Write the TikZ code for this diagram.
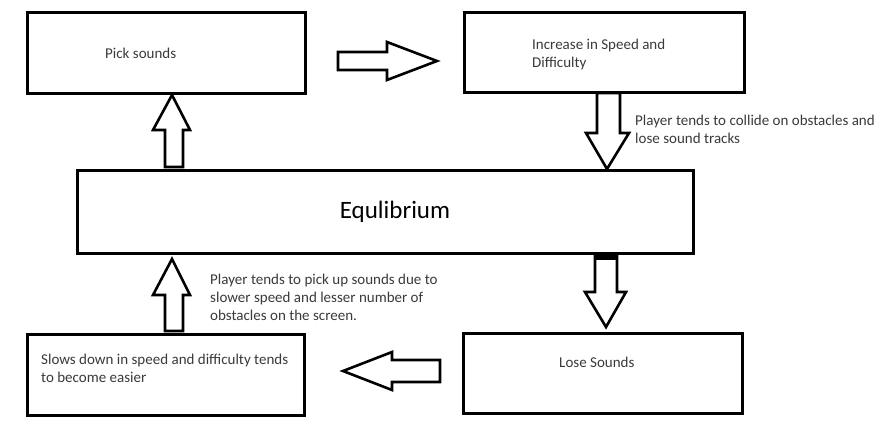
\documentclass[tikz,border=0pt]{standalone}
\usepackage{fontspec}
\setmainfont{Carlito}
\definecolor{txt}{HTML}{3A3A3A}
\tikzset{
  box/.style={draw=black, line width=3pt, inner sep=0pt, outer sep=0pt},
  blk/.style={draw=black, line width=2.6pt, fill=white, line join=miter},
  lbl/.style={text=txt, font=\fontsize{15}{18}\selectfont, inner sep=0pt, anchor=west, align=left},
}
\begin{document}
\begin{tikzpicture}[x=1pt,y=-1pt]
\useasboundingbox[fill=white] (0,0) rectangle (882,428);
% boxes
\node[box, minimum width=278pt, minimum height=80pt] (pick) at (166,53) {};
\node[box, minimum width=280pt, minimum height=79pt] (incr) at (604,52.5) {};
\node[box, minimum width=616pt, minimum height=83pt] (eq) at (385,211.5) {};
\node[box, minimum width=277pt, minimum height=81pt] (slow) at (165.5,374.5) {};
\node[box, minimum width=279pt, minimum height=80pt] (lose) at (602.5,373) {};
% texts
\node[lbl] (pickT) at (105,53) {Pick sounds};
\node[lbl] (incrT) at (532,54.5) {Increase in Speed and\\Difficulty};
\node[text=black, font=\fontsize{25}{30}\selectfont, inner sep=0pt] (eqT) at (395,212) {Equlibrium};
\node[lbl] (slowT) at (41,368) {Slows down in speed and difficulty tends\\to become easier};
\node[lbl] (loseT) at (559,362) {Lose Sounds};
\node[lbl] (collT) at (635,129) {Player tends to collide on obstacles and\\lose sound tracks};
\node[lbl] (pickupT) at (210,297) {Player tends to pick up sounds due to\\slower speed and lesser number of\\obstacles on the screen.};
% block arrows
% pick -> incr (right)
\draw[blk] (338,52) -- (387,52) -- (387,42) -- (437,61) -- (387,80) -- (387,70) -- (338,70) -- cycle;
% incr -> eq (down)
\draw[blk] (597,93) -- (620,93) -- (620,133) -- (629,133) -- (607,169) -- (586,133) -- (597,133) -- cycle;
% eq -> pick (up)
\draw[blk] (165,167) -- (165,130) -- (153,130) -- (172,95) -- (190,130) -- (183,130) -- (183,167) -- cycle;
% eq -> lose (down)
\draw[blk] (595,254) -- (617,254) -- (617,292) -- (626,292) -- (606,327) -- (585,292) -- (595,292) -- cycle;
\fill[black] (595,253) rectangle (617,260);
% lose -> slow (left)
\draw[blk] (440,360) -- (392,360) -- (392,352) -- (343,371) -- (392,390) -- (392,382) -- (440,382) -- cycle;
% slow -> eq (up)
\draw[blk] (165,331) -- (165,295) -- (153,295) -- (172,259) -- (190,295) -- (183,295) -- (183,331) -- cycle;
\end{tikzpicture}
\end{document}
